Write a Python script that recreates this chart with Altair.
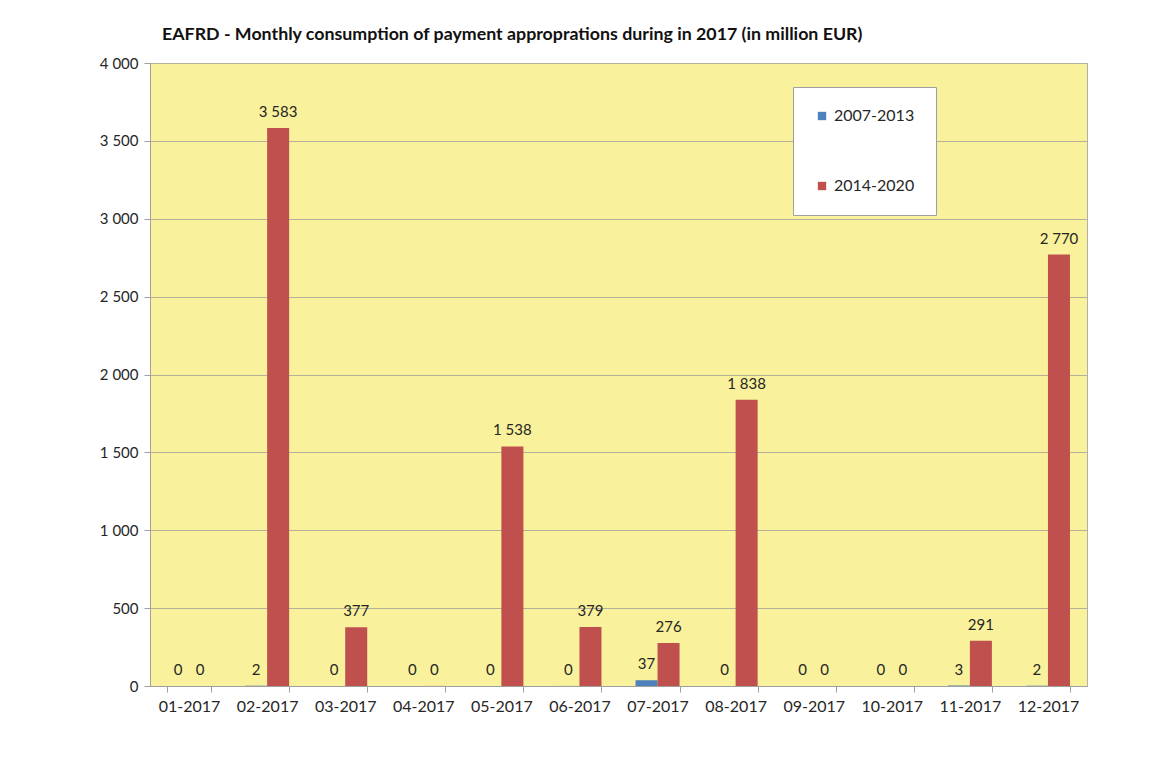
import altair as alt
import pandas as pd

months = ["01-2017", "02-2017", "03-2017", "04-2017", "05-2017", "06-2017",
          "07-2017", "08-2017", "09-2017", "10-2017", "11-2017", "12-2017"]
series_names = ["2007-2013", "2014-2020"]
values_2007_2013 = [0, 2, 0, 0, 0, 0.4, 37, 0, 0, 0, 3, 2]
values_2014_2020 = [0, 3583, 377, 0.4, 1538, 379, 276, 1838, 0.4, 0, 291, 2770]
colors = ["#4F81BD", "#C0504D"]
y_ticks = [0, 500, 1000, 1500, 2000, 2500, 3000, 3500, 4000]

rows = []
for m, a, b in zip(months, values_2007_2013, values_2014_2020):
    rows.append({"month": m, "series": series_names[0], "value": a})
    rows.append({"month": m, "series": series_names[1], "value": b})
df = pd.DataFrame(rows)

FONT = "Lato"

x_enc = alt.X("month:N", sort=months, title=None,
              scale=alt.Scale(paddingInner=0.436, paddingOuter=0.218),
              axis=alt.Axis(labelAngle=0, labelFontSize=16, labelColor="#262626",
                            labelFont=FONT, labelPadding=6, tickBand="extent",
                            tickSize=6, tickColor="#A0A0A0", domainColor="#A0A0A0",
                            grid=False))
y_enc = alt.Y("value:Q", title=None,
              scale=alt.Scale(domain=[0, 4000], nice=False),
              axis=alt.Axis(values=y_ticks, format=",.0f", labelFontSize=15,
                            labelColor="#262626", labelFont=FONT, labelPadding=6,
                            tickSize=6, tickColor="#A0A0A0", domainColor="#A0A0A0",
                            gridColor="#B4B09A", gridWidth=1))
xo = alt.XOffset("series:N", sort=series_names, scale=alt.Scale(paddingInner=0, paddingOuter=0))

bars = alt.Chart(df).mark_bar().encode(
    x=x_enc, y=y_enc, xOffset=xo,
    color=alt.Color("series:N", sort=series_names,
                    scale=alt.Scale(domain=series_names, range=colors),
                    legend=alt.Legend(title=None, orient="none", legendX=643, legendY=24,
                                      direction="vertical", symbolType="square",
                                      symbolSize=70, symbolStrokeWidth=0,
                                      labelFontSize=16, labelFont=FONT,
                                      labelColor="#262626", padding=21, rowPadding=54,
                                      fillColor="white", strokeColor="#A0A0A0")),
)

labels = alt.Chart(df).mark_text(baseline="bottom", dy=-8, fontSize=15, font=FONT,
                                 color="#262626").encode(
    x=alt.X("month:N", sort=months), y="value:Q", xOffset=xo,
    text=alt.Text("value:Q", format=",.0f"),
)

chart = alt.layer(bars, labels).properties(
    width=937, height=623,
    title=alt.TitleParams(
        "EAFRD - Monthly consumption of payment approprations during in 2017  (in million EUR)",
        fontSize=17.8, font=FONT, fontWeight="bold", color="#111111",
        anchor="start", frame="group", dx=12, offset=12),
    autosize=alt.AutoSizeParams(type="none"),
    padding={"left": 142, "top": 55, "right": 50, "bottom": 70},
).configure(
    locale={"number": {"decimal": ",", "thousands": " ", "grouping": [3],
                       "currency": ["", " €"]}},
    background="white",
).configure_view(fill="#F9F19B", stroke="#B0B0B0")

chart.save("out.html", embed_options={"renderer": "svg", "actions": False})
